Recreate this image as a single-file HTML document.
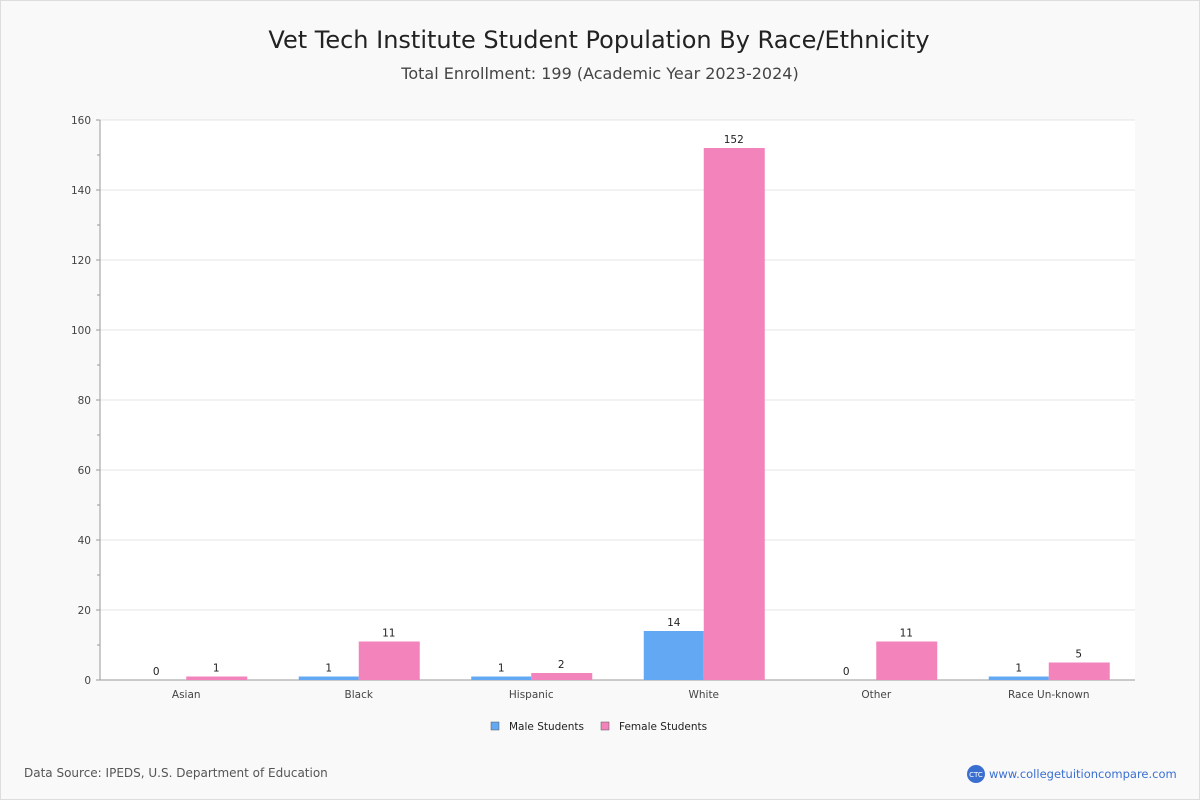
<!DOCTYPE html>
<html><head><meta charset="utf-8"><style>
body{margin:0;background:#fff;font-family:"DejaVu Sans","Liberation Sans",sans-serif}
#wrap{position:relative;width:1198px;height:798px;border:1px solid #ddd;background:#f9f9f9}
#c{position:absolute;left:-1px;top:-1px}
</style></head><body>
<div id="wrap">
<svg id="c" width="1200" height="800"></svg>
</div>
<script>
const categories=["Asian","Black","Hispanic","White","Other","Race Un-known"];
const maleValues=[0,1,1,14,0,1];
const femaleValues=[1,11,2,152,11,5];
const yTicks=[0,20,40,60,80,100,120,140,160];
const svg=document.getElementById('c');
const NS='http://www.w3.org/2000/svg';
function mk(t,a,txt,p){const e=document.createElementNS(NS,t);for(const k in a)e.setAttribute(k,a[k]);if(txt!==undefined)e.textContent=txt;(p||svg).appendChild(e);return e;}
const X0=100,X1=1135,Y0=680,Y1=120,YMAX=160;
const y=v=>Y0-(v/YMAX)*(Y0-Y1);
const bw=(X1-X0)/categories.length;
const cx=i=>X0+bw*(i+0.5);
let e;
e=mk('text',{x:599,y:48,'text-anchor':'middle','font-size':24,fill:'#222'},'Vet Tech Institute Student Population By Race/Ethnicity');

e=mk('text',{x:600,y:79,'text-anchor':'middle','font-size':16,fill:'#444'},'Total Enrollment: 199 (Academic Year 2023-2024)');

mk('rect',{x:X0,y:Y1,width:X1-X0,height:Y0-Y1,fill:'#fff'});
yTicks.forEach(t=>{
 const g=mk('line',{x1:X0,x2:X1,y1:y(t),y2:y(t),stroke:'#e4e4e4'});
 
 const l=mk('text',{x:X0-9,y:y(t)+4,'text-anchor':'end','font-size':10.5,fill:'#444'},t);
 
 mk('line',{x1:X0-4,x2:X0,y1:y(t),y2:y(t),stroke:'#999'});
 if(t<160)mk('line',{x1:X0-3,x2:X0,y1:y(t+10),y2:y(t+10),stroke:'#999'});
});
mk('line',{x1:X0,x2:X0,y1:Y1,y2:Y0,stroke:'#999'});
mk('line',{x1:X0,x2:X1,y1:Y0,y2:Y0,stroke:'#999'});
categories.forEach((c,i)=>{
 const m=mk('rect',{x:cx(i)-60,y:y(maleValues[i]),width:60,height:Y0-y(maleValues[i]),fill:'#63a8f2'});
 
 const f=mk('rect',{x:cx(i),y:y(femaleValues[i]),width:61,height:Y0-y(femaleValues[i]),fill:'#f283bb'});
 
 const a=mk('text',{x:cx(i)-30,y:y(maleValues[i])-5,'text-anchor':'middle','font-size':10.5,fill:'#222'},maleValues[i]);
 
 const b=mk('text',{x:cx(i)+30,y:y(femaleValues[i])-5,'text-anchor':'middle','font-size':10.5,fill:'#222'},femaleValues[i]);
 
 const xl=mk('text',{x:cx(i),y:698,'text-anchor':'middle','font-size':10.5,fill:'#444'},c);
 
});
e=mk('rect',{x:491,y:722,width:8,height:8,fill:'#63a8f2',stroke:'#555','stroke-width':0.5});

e=mk('text',{x:509,y:730,'font-size':10.5,fill:'#222'},'Male Students');

e=mk('rect',{x:601,y:722,width:8,height:8,fill:'#f283bb',stroke:'#555','stroke-width':0.5});

e=mk('text',{x:619,y:730,'font-size':10.5,fill:'#222'},'Female Students');

e=mk('text',{x:24,y:777,'font-size':12,fill:'#555'},'Data Source: IPEDS, U.S. Department of Education');

e=mk('circle',{cx:976,cy:774,r:9,fill:'#3a6fd0'});

mk('text',{x:976,y:777,'text-anchor':'middle','font-size':7,fill:'#fff'},'CTC');
e=mk('text',{x:989,y:778,'font-size':11.5,fill:'#3a6fd0'},'www.collegetuitioncompare.com');

</script>
</body></html>
